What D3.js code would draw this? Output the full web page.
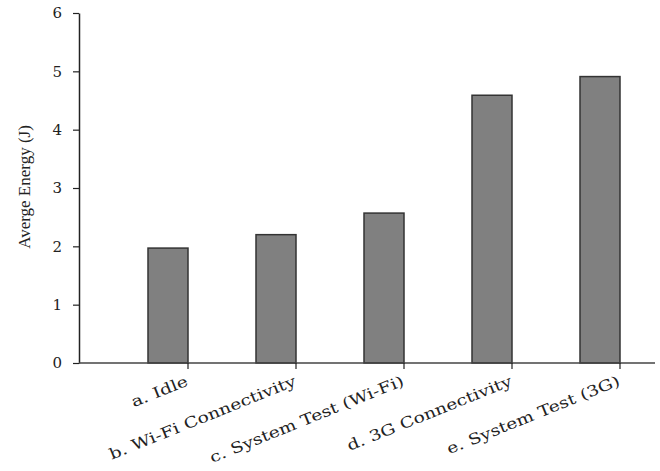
<!DOCTYPE html>
<html><head><meta charset="utf-8">
<script src="https://cdn.jsdelivr.net/npm/d3@7"></script>
<style>body{margin:0;background:#fff}</style>
</head><body>
<svg id="c" width="660" height="471"></svg>
<script>
const categories = ["a. Idle","b. Wi-Fi Connectivity","c. System Test (Wi-Fi)","d. 3G Connectivity","e. System Test (3G)"];
const values = [1.97, 2.20, 2.57, 4.59, 4.91];
const yTicks = [0,1,2,3,4,5,6];
const yLabel = "Averge Energy (J)";

const svg = d3.select("#c");
const x0 = 79, x1 = 655, yTop = 13, yBot = 363;
const x = d3.scaleBand().domain(categories).range([80, 620]).padding(0);
const y = d3.scaleLinear().domain([0, 6]).range([yBot, yTop]);
const bw = x.bandwidth();
const barW = 40;

// bars
svg.selectAll("rect.bar").data(values).enter().append("rect")
  .attr("x", (d,i) => x(categories[i]) + bw - barW)
  .attr("y", d => y(d))
  .attr("width", barW)
  .attr("height", d => yBot - y(d))
  .attr("fill", "#808080")
  .attr("stroke", "#333")
  .attr("stroke-width", 1.5);

// y axis
const ya = svg.append("g").attr("transform", `translate(${x0},0)`)
  .call(d3.axisLeft(y).tickValues(yTicks).tickFormat(d3.format("d")).tickSize(6).tickSizeOuter(0).tickPadding(11));
ya.select(".domain").attr("stroke", "#222").attr("stroke-width", 1.5);
ya.selectAll(".tick line").attr("stroke", "#222").attr("stroke-width", 1.2);
ya.selectAll(".tick text").attr("font-family", "'DejaVu Serif', serif").attr("font-size", 15).attr("fill", "#222");

// x axis line
svg.append("line").attr("x1", x0).attr("x2", x1).attr("y1", yBot).attr("y2", yBot)
  .attr("stroke", "#444").attr("stroke-width", 1.5);
// x ticks at band ends
svg.selectAll("line.xt").data(categories).enter().append("line")
  .attr("x1", d => x(d) + bw).attr("x2", d => x(d) + bw)
  .attr("y1", yBot).attr("y2", yBot + 6)
  .attr("stroke", "#222").attr("stroke-width", 1.2);
// x labels
svg.selectAll("text.xl").data(categories).enter().append("text")
  .attr("transform", d => `translate(${x(d) + bw + 1},${yBot + 22}) rotate(-22) scale(1.25,1)`)
  .attr("text-anchor", "end")
  .attr("font-family", "'DejaVu Serif', serif").attr("font-size", 15)
  .attr("fill", "#222")
  .text(d => d);

// y label
svg.append("text")
  .attr("transform", `translate(30,187) rotate(-90)`)
  .attr("text-anchor", "middle")
  .attr("font-family", "'Liberation Serif', serif").attr("font-size", 17).attr("fill", "#222")
  .text(yLabel);
</script>
</body></html>
